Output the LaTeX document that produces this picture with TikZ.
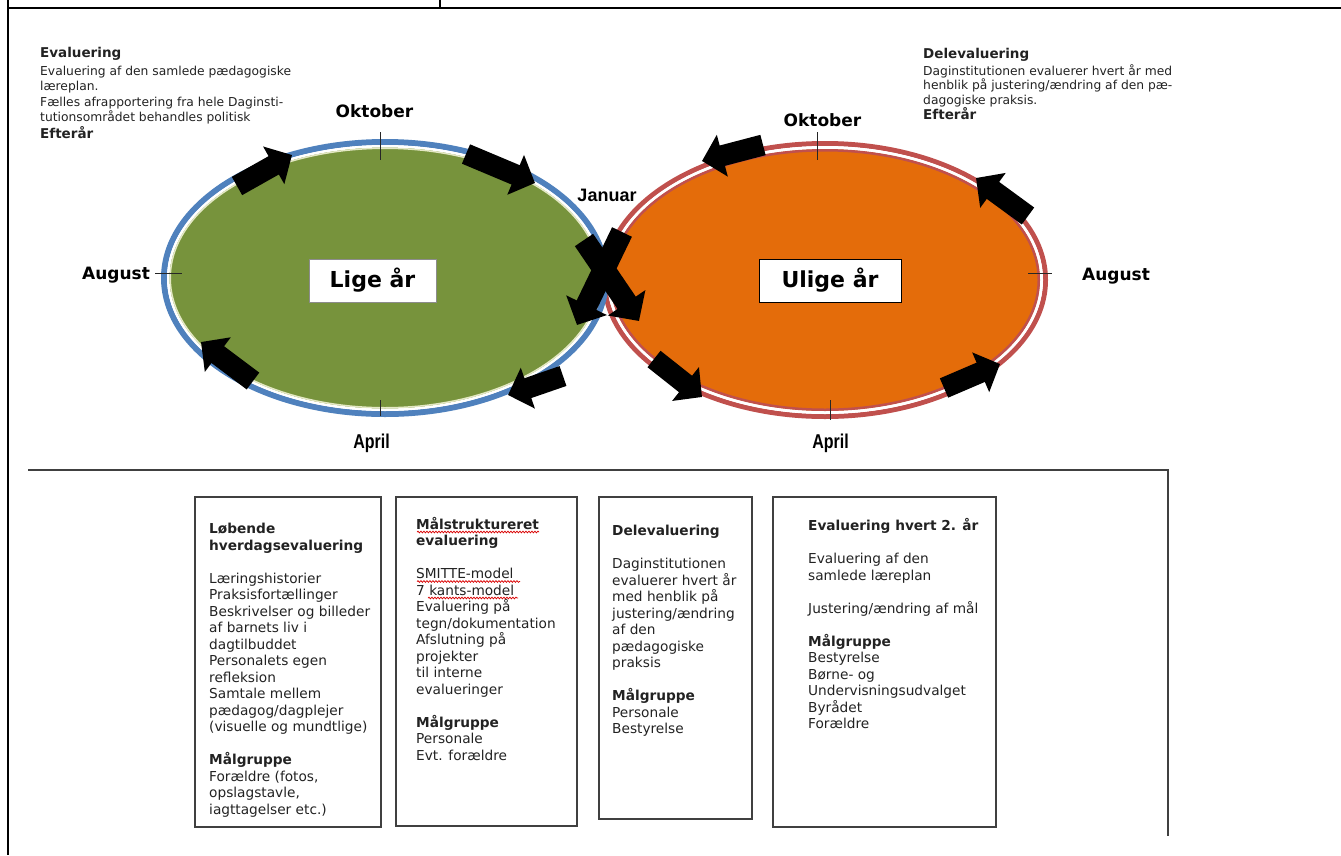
\documentclass[tikz,border=0pt]{standalone}
\usepackage{fontspec}
\setmainfont{DejaVu Sans}
\newfontfamily\arialfont{Liberation Sans}
\newfontfamily\narrowfont[FakeStretch=0.8]{Liberation Sans}
\usetikzlibrary{arrows.meta,decorations.pathmorphing}
\definecolor{ringblue}{HTML}{4F81BD}
\definecolor{ringred}{HTML}{C0504D}
\definecolor{fillgreen}{HTML}{77933C}
\definecolor{fillorange}{HTML}{E46C0A}
\definecolor{creamline}{HTML}{E4E8C4}
\definecolor{boxline}{HTML}{404040}
\definecolor{txt}{HTML}{222222}
\tikzset{
  monthlbl/.style={font=\fontsize{17}{17}\selectfont\bfseries, inner sep=0pt},
  aprillbl/.style={font=\narrowfont\fontsize{20}{20}\selectfont\bfseries, inner sep=0pt},
  yearbox/.style={font=\fontsize{22}{22}\selectfont\bfseries, fill=white, inner sep=0pt},
  blockarrow/.style={line width=21pt, black, -{Triangle[width=42pt,length=21pt]}},
  bigblockarrow/.style={line width=22pt, black, -{Triangle[width=44pt,length=22pt]}},
  tick/.style={line width=0.9pt, black!85},
  infobox/.style={draw=boxline, line width=1.4pt},
  boxtext/.style={anchor=north west, inner sep=0pt, align=left, text=txt,
    font=\fontsize{13.7}{16.5}\selectfont},
  topbody/.style={anchor=base west, inner sep=0pt, text=txt, font=\fontsize{12.3}{12.3}\selectfont},
  tophead/.style={anchor=base west, inner sep=0pt, text=txt, font=\fontsize{13.5}{13.5}\selectfont\bfseries},
  wavy/.style={red!85!black, line width=0.7pt, decorate,
    decoration={snake, amplitude=0.9pt, segment length=3pt}},
  frame/.style={line width=2.4pt, black},
}
\begin{document}
\begin{tikzpicture}[x=1pt,y=-1pt]
\useasboundingbox (0,0) rectangle (1341,855);
% outer frame
\draw[frame] (8,0) -- (8,855);
\draw[frame] (8,8) -- (1341,8);
\draw[frame] (440,0) -- (440,8);
% lower frame
\draw[line width=1.4pt, boxline] (28,470) -- (1168,470) -- (1168,836);

% ellipses
\coordinate (LC) at (385,278);
\coordinate (RC) at (825,280);
\fill[fillorange] (RC) ellipse [x radius=215pt, y radius=131pt];
\fill[fillgreen] (LC) ellipse [x radius=216pt, y radius=131pt];
% right rings
\draw[ringred, line width=5pt] (RC) ellipse [x radius=220.5pt, y radius=136.5pt];
\draw[white, line width=3pt] (RC) ellipse [x radius=216.5pt, y radius=132.5pt];
\draw[ringred, line width=2.5pt] (RC) ellipse [x radius=213.75pt, y radius=129.75pt];
% left rings
\draw[ringblue, line width=6pt] (LC) ellipse [x radius=221pt, y radius=136pt];
\draw[white, line width=2.5pt] (LC) ellipse [x radius=216.75pt, y radius=131.75pt];
\draw[creamline, line width=1.5pt] (LC) ellipse [x radius=214.75pt, y radius=129.75pt];

% ticks
\draw[tick] (380,132) -- (380,160);
\draw[tick] (155,273) -- (182,273);
\draw[tick] (380,400) -- (380,416);
\draw[tick] (817,132) -- (817,160);
\draw[tick] (1028,273) -- (1052,273);
\draw[tick] (830,400) -- (830,420);

% month labels
\node[monthlbl] (okt1) at (374.5,111) {Oktober};
\node[monthlbl] (okt2) at (822.5,120) {Oktober};
\node[monthlbl] (aug1) at (116,275) {August};
\node[monthlbl] (aug2) at (1116,276) {August};
\node[aprillbl] (apr1) at (371.5,443) {April};
\node[aprillbl] (apr2) at (830.5,443) {April};
\node[inner sep=0pt, font=\arialfont\fontsize{18}{18}\selectfont\bfseries] (jan) at (607,195) {Januar};

% year boxes
\node[yearbox, draw=black!45, line width=0.8pt, minimum width=127pt, minimum height=43pt] (lige) at (372.5,280.5) {Lige år};
\node[yearbox, draw=black, line width=1pt, minimum width=142pt, minimum height=43pt] (ulige) at (830,280.5) {Ulige år};

% arrows left ellipse (clockwise)
\coordinate (l1a) at (237,186); \coordinate (l1b) at (292,155);
\coordinate (l2a) at (466,154); \coordinate (l2b) at (535,183);
\coordinate (l3a) at (563,376); \coordinate (l3b) at (508,395);
\coordinate (l4a) at (253,381); \coordinate (l4b) at (201,342);
\draw[blockarrow] (l1a) -- (l1b);
\draw[blockarrow] (l2a) -- (l2b);
\draw[blockarrow] (l3a) -- (l3b);
\draw[blockarrow] (l4a) -- (l4b);
% arrows right ellipse (counter-clockwise)
\coordinate (r1a) at (763,145); \coordinate (r1b) at (702,161);
\coordinate (r2a) at (1028,216); \coordinate (r2b) at (976,178);
\coordinate (r3a) at (944,388); \coordinate (r3b) at (1000,364);
\coordinate (r4a) at (654,359); \coordinate (r4b) at (702,397);
\draw[blockarrow] (r1a) -- (r1b);
\draw[blockarrow] (r2a) -- (r2b);
\draw[blockarrow] (r3a) -- (r3b);
\draw[blockarrow] (r4a) -- (r4b);
% crossing arrows
\coordinate (cAa) at (622,232); \coordinate (cAb) at (577,325);
\coordinate (cBa) at (584,240); \coordinate (cBb) at (639,321);
\draw[bigblockarrow] (cAa) -- (cAb);
\draw[bigblockarrow] (cBa) -- (cBb);

% top-left text
\node[tophead] (tlh) at (40,57.5) {Evaluering};
\node[topbody] (tl1) at (40,75) {Evaluering af den samlede pædagogiske};
\node[topbody] (tl2) at (40,90.5) {læreplan.};
\node[topbody] (tl3) at (40,106) {Fælles afrapportering fra hele Daginsti-};
\node[topbody] (tl4) at (40,121.5) {tutionsområdet behandles politisk};
\node[tophead] (tlf) at (40,138) {Efterår};
% top-right text
\node[tophead] (trh) at (923,58) {Delevaluering};
\node[topbody] (tr1) at (923,75) {Daginstitutionen evaluerer hvert år med};
\node[topbody] (tr2) at (923,89.5) {henblik på justering/ændring af den pæ-};
\node[topbody] (tr3) at (923,104) {dagogiske praksis.};
\node[tophead] (trf) at (923,119) {Efterår};

% info boxes
\draw[infobox] (195,497) rectangle (381,827);
\draw[infobox] (396,497) rectangle (577,826);
\draw[infobox] (599,497) rectangle (752,819);
\draw[infobox] (773,497) rectangle (996,827);

\node[boxtext] (b1) at (209,523) {\textbf{Løbende}\\ \textbf{hverdagsevaluering}\\[16.5pt]
Læringshistorier\\ Praksisfortællinger\\ Beskrivelser og billeder\\ af barnets liv i\\ dagtilbuddet\\
Personalets egen\\ refleksion\\ Samtale mellem\\ pædagog/dagplejer\\ (visuelle og mundtlige)\\[16.5pt]
\textbf{Målgruppe}\\ Forældre (fotos,\\ opslagstavle,\\ iagttagelser etc.)};

\node[boxtext] (b2) at (416,517) {\textbf{Målstruktureret}\\ \textbf{evaluering}\\[16.5pt]
SMITTE-model\\ 7 kants-model\\ Evaluering på\\ tegn/dokumentation\\ Afslutning på\\ projekter\\
til interne\\ evalueringer\\[16.5pt]
\textbf{Målgruppe}\\ Personale\\ Evt. forældre};

\node[boxtext] (b3) at (612,525) {\textbf{Delevaluering}\\[16.5pt]
Daginstitutionen\\ evaluerer hvert år\\ med henblik på\\ justering/ændring\\ af den\\ pædagogiske\\ praksis\\[16.5pt]
\textbf{Målgruppe}\\ Personale\\ Bestyrelse};

\node[boxtext] (b4) at (808,518) {\textbf{Evaluering hvert 2. år}\\[17pt]
Evaluering af den\\ samlede læreplan\\[16.5pt]
Justering/ændring af mål\\[16.5pt]
\textbf{Målgruppe}\\ Bestyrelse\\ Børne- og\\ Undervisningsudvalget\\ Byrådet\\ Forældre};

% spell-check underlines
\coordinate (w1a) at (417,532); \coordinate (w1b) at (539,532);
\coordinate (w2a) at (417,581.5); \coordinate (w2b) at (520,581.5);
\coordinate (w3a) at (428,598); \coordinate (w3b) at (518,598);
\draw[wavy] (w1a) -- (w1b);
\draw[wavy] (w2a) -- (w2b);
\draw[wavy] (w3a) -- (w3b);
\end{tikzpicture}
\end{document}
